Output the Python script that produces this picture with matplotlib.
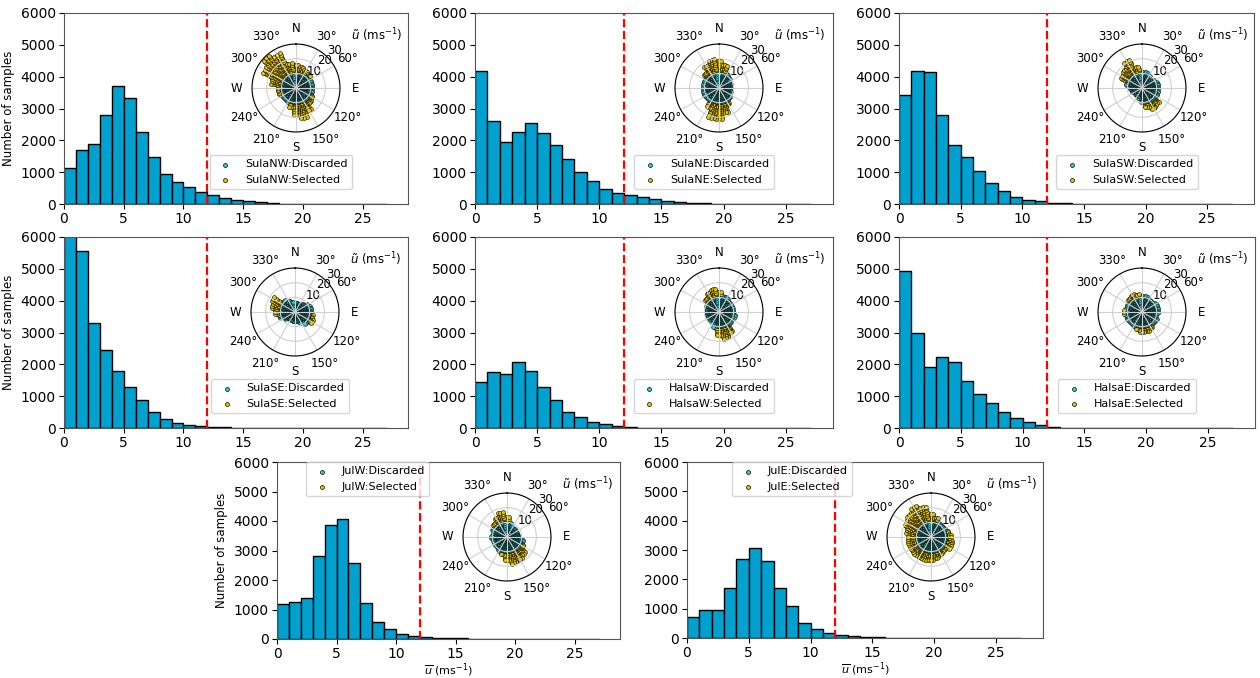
import numpy as np
import matplotlib.pyplot as plt

# ── data ─────────────────────────────────────────────────────────────────────
SITES = ["SulaNW", "SulaNE", "SulaSW", "SulaSE", "HalsaW", "HalsaE", "JulW", "JulE"]
BIN_LEFT = list(range(27))          # 1 m/s bins, 0..27

SULA_NW = [1130, 1700, 1880, 2800, 3700, 3330, 2250, 1480, 950, 700, 530, 370, 280,
           200, 130, 80, 60, 30, 15, 10, 8, 5, 3, 2, 2, 1, 1]
SULA_NE = [4180, 2620, 1960, 2250, 2540, 2240, 1860, 1400, 1010, 730, 480, 340, 280,
           210, 160, 90, 70, 40, 25, 15, 10, 6, 4, 2, 1, 1, 0]
SULA_SW = [3430, 4170, 4150, 2810, 1860, 1470, 1040, 650, 410, 230, 120, 80, 40,
           20, 10, 6, 4, 3, 2, 1, 1, 1, 0, 0, 0, 0, 0]
SULA_SE = [6050, 5570, 3310, 2440, 1790, 1300, 870, 500, 290, 160, 90, 60, 40,
           20, 10, 5, 3, 2, 1, 1, 0, 0, 0, 0, 0, 0, 0]
HALSA_W = [1460, 1770, 1700, 2060, 1780, 1300, 870, 500, 340, 180, 120, 50, 30,
           10, 5, 3, 2, 1, 1, 0, 0, 0, 0, 0, 0, 0, 0]
HALSA_E = [4930, 3000, 1910, 2220, 2060, 1480, 1070, 770, 500, 300, 180, 90, 40,
           15, 8, 4, 2, 1, 1, 0, 0, 0, 0, 0, 0, 0, 0]
JUL_W = [1200, 1260, 1390, 2810, 3850, 4080, 2560, 1220, 590, 340, 180, 100, 70,
         30, 20, 20, 10, 5, 5, 3, 2, 1, 0, 0, 0, 0, 0]
JUL_E = [730, 970, 940, 1720, 2690, 3080, 2620, 1700, 1090, 520, 290, 170, 90,
         60, 30, 20, 10, 5, 3, 2, 1, 0, 0, 0, 0, 0, 0]
COUNTS = [SULA_NW, SULA_NE, SULA_SW, SULA_SE, HALSA_W, HALSA_E, JUL_W, JUL_E]

# outer edge of the speed cloud in the wind roses, every 15 deg from N (clockwise)
DIRS = list(range(0, 360, 15))
ENV_SULA_NW = [16, 15, 14, 13, 12, 11, 11, 12, 13, 14, 18, 21, 19, 14, 12, 12, 12, 13, 13, 18, 25, 29, 27, 18]
ENV_SULA_NE = [19, 17, 12, 10, 9, 9, 9, 9, 9, 10, 13, 18, 21, 21, 15, 12, 11, 11, 11, 11, 12, 14, 18, 20]
ENV_SULA_SW = [12, 11, 10, 9, 10, 11, 11, 11, 12, 15, 17, 14, 10, 8, 7, 7, 7, 8, 9, 12, 17, 18, 21, 15]
ENV_SULA_SE = [7, 7, 7, 8, 10, 11, 12, 13, 14, 12, 9, 7, 6, 6, 6, 7, 9, 12, 14, 17, 18, 12, 9, 8]
ENV_HALSA_W = [14, 12, 11, 10, 10, 10, 10, 11, 10, 12, 16, 19, 17, 12, 9, 9, 9, 9, 9, 9, 10, 13, 15, 17]
ENV_HALSA_E = [12, 11, 10, 10, 11, 11, 11, 10, 11, 12, 13, 14, 14, 13, 12, 11, 11, 12, 13, 12, 12, 13, 14, 13]
ENV_JUL_W = [14, 10, 8, 8, 8, 8, 9, 11, 13, 16, 18, 19, 17, 13, 11, 10, 10, 10, 11, 10, 11, 13, 15, 18]
ENV_JUL_E = [17, 14, 12, 11, 12, 13, 14, 15, 15, 13, 14, 15, 16, 16, 16, 17, 16, 16, 17, 18, 20, 21, 24, 21]
ENVELOPES = [ENV_SULA_NW, ENV_SULA_NE, ENV_SULA_SW, ENV_SULA_SE,
             ENV_HALSA_W, ENV_HALSA_E, ENV_JUL_W, ENV_JUL_E]

THRESHOLD = 12
THETA_LABELS = ["N", "30°", "60°", "E", "120°", "150°", "S", "210°", "240°", "W", "300°", "330°"]

# ── layout (pixel boxes: left, right, top, bottom) ───────────────────────────
W, H = 1260, 678
BOXES = [(64, 408, 13, 204), (475, 833, 13, 204), (899, 1254, 13, 204),
         (64, 408, 237, 428), (475, 833, 237, 428), (899, 1255, 237, 428),
         (277, 620, 462, 639), (687, 1043, 462, 638)]
POLAR_DX = [232, 244, 243, 231, 244, 243, 230, 244]
BAR_C = "#00A0CF"
CYAN = "#3CCBD3"
YELLOW = "#E8C800"

fig = plt.figure(figsize=(W / 100, H / 100), dpi=100)


def fbox(l, r, t, b):
    return [l / W, 1 - b / H, (r - l) / W, (b - t) / H]


for i, site in enumerate(SITES):
    l, r, t, b = BOXES[i]
    ax = fig.add_axes(fbox(l, r, t, b))
    ax.bar(BIN_LEFT, COUNTS[i], width=1.0, align="edge", color=BAR_C,
           edgecolor="black", linewidth=1.0)
    ax.axvline(THRESHOLD, color="red", ls="--", lw=1.6, zorder=4)
    ax.set_xlim(0, 28.8)
    ax.set_ylim(0, 6000)
    ax.set_xticks([0, 5, 10, 15, 20, 25])
    ax.set_yticks(range(0, 6001, 1000))
    ax.tick_params(labelsize=10, length=3.5, pad=2.5)
    for s in ax.spines.values():
        s.set_color("#555555")
    if i in (0, 3, 6):
        ax.set_ylabel("Number of samples", fontsize=8.5)
    if i >= 6:
        ax.set_xlabel(r"$\overline{u}$ (ms$^{-1}$)", fontsize=8, labelpad=0)

    # wind-rose inset
    cx, cy, rad = l + POLAR_DX[i], t + 75, 44
    pax = fig.add_axes(fbox(cx - rad, cx + rad, cy - rad, cy + rad), projection="polar")
    pax.set_theta_zero_location("N")
    pax.set_theta_direction(-1)
    th_d, r_d, th_s, r_s = [], [], [], []
    for d, R in zip(DIRS, ENVELOPES[i]):
        for off in (-5, 0, 5):
            for rr in np.arange(1.0, R + 0.01, 1.25):
                if rr < THRESHOLD:
                    th_d.append(np.deg2rad(d + off)); r_d.append(rr)
                else:
                    th_s.append(np.deg2rad(d + off)); r_s.append(rr)
    pax.scatter(th_d, r_d, s=7, c=CYAN, edgecolors="black", linewidths=0.4, zorder=1)
    pax.scatter(th_s, r_s, s=8, c=YELLOW, edgecolors="black", linewidths=0.4, zorder=1)
    pax.set_ylim(0, 30)
    pax.set_yticks([10, 20, 30])
    pax.set_rlabel_position(45)
    pax.set_thetagrids(range(0, 360, 30), THETA_LABELS)
    pax.tick_params(labelsize=8.5, pad=1)
    pax.grid(color="#d0d0d0", lw=0.8)
    pax.text(1.42, 1.1, r"$\tilde{u}$ (ms$^{-1}$)", transform=pax.transAxes,
             ha="center", va="center", fontsize=8.5)

    # legend uses the same marker styling as the inset
    hd = ax.scatter([], [], s=8, c=CYAN, edgecolors="black", linewidths=0.5,
                    label=f"{site}:Discarded")
    hs = ax.scatter([], [], s=8, c=YELLOW, edgecolors="black", linewidths=0.5,
                    label=f"{site}:Selected")
    if i < 6:
        anchor = ((cx - 15) / W, 1 - (t + 142) / H)
        loc = "upper center"
    else:
        anchor = ((l + (29 if i == 6 else 45)) / W, 1 - t / H)
        loc = "upper left"
    ax.legend(handles=[hd, hs], loc=loc, bbox_to_anchor=anchor,
              bbox_transform=fig.transFigure, fontsize=8, borderaxespad=0)

fig.savefig("out.png", dpi=100)
